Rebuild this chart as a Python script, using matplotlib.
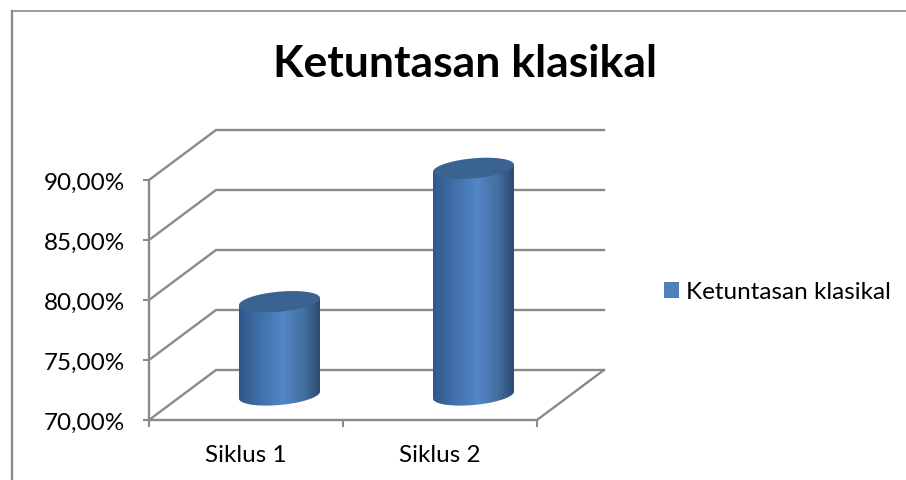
import numpy as np
import matplotlib
matplotlib.use('Agg')
import matplotlib.pyplot as plt
from matplotlib.colors import LinearSegmentedColormap
from matplotlib.lines import Line2D
from matplotlib.patches import Patch, Polygon

categories = ['Siklus 1', 'Siklus 2']
values = [77.78, 88.89]
y_ticks = [70, 75, 80, 85, 90]
y_tick_labels = ['70,00%', '75,00%', '80,00%', '85,00%', '90,00%']
series_name = 'Ketuntasan klasikal'
chart_title = 'Ketuntasan klasikal'

GRAY = '#8a8a8a'
plt.rcParams['font.family'] = ['Lato', 'DejaVu Sans']

W, H = 906, 481
fig = plt.figure(figsize=(W / 100, H / 100), dpi=100)
ax = fig.add_axes([149 / W, 1 - 421 / H, 388 / W, 240 / H])
ax.set_xlim(-0.5, 1.5)
ax.set_ylim(70, 90)

# depth of the fake 3d box, in data units
depth_x = 67 / 194
depth_y = 50 / 12

# walls and floor
for t in y_ticks:
    ax.plot([-0.5, -0.5 + depth_x, 1.5 + depth_x], [t, t + depth_y, t + depth_y],
            color=GRAY, lw=1.7, clip_on=False, zorder=1, solid_joinstyle='miter')
ax.plot([1.5, 1.5 + depth_x], [70, 70 + depth_y], color=GRAY, lw=1.7, clip_on=False, zorder=1)

# cylinders stand halfway back in the box
cmap = LinearSegmentedColormap.from_list('cyl', [
    (0.0, '#2f5889'), (0.25, '#3f6fa8'), (0.55, '#5286c8'),
    (0.8, '#44709f'), (1.0, '#2b4b72')])
half_w = 40.5 / 194
ell_h = 10 / 12
tilt = 3.5 / 12
t = np.linspace(0, 2 * np.pi, 121)
for i, v in enumerate(values):
    cx = i + depth_x / 2
    base = 70 + depth_y / 2
    top = v + depth_y / 2
    ex = cx + half_w * np.cos(t)
    e_off = ell_h * np.sin(t) + tilt * np.cos(t)
    # lower half of the outline, left to right
    low = np.linspace(np.pi, 2 * np.pi, 61)
    lx = cx + half_w * np.cos(low)
    ly = base + ell_h * np.sin(low) + tilt * np.cos(low)
    body = np.column_stack([
        np.r_[cx - half_w, lx, cx + half_w],
        np.r_[top - tilt, ly, top + tilt]])
    poly = Polygon(body, closed=True, transform=ax.transData, facecolor='none', edgecolor='none')
    ax.add_patch(poly)
    poly.set_clip_on(False)
    img = ax.imshow(np.linspace(0, 1, 256).reshape(1, -1), cmap=cmap, aspect='auto',
                    extent=[cx - half_w, cx + half_w, base - 2, top + 2], zorder=3)
    img.set_clip_box(fig.bbox)  # the tall cylinder pokes out above the axes
    img.set_clip_path(poly)
    ax.fill(ex, top + e_off, color='#3a6391', lw=0, zorder=4, clip_on=False)

ax.set_xlim(-0.5, 1.5)
ax.set_ylim(70, 90)
ax.patch.set_alpha(0)

for side in ['top', 'right']:
    ax.spines[side].set_visible(False)
for side in ['left', 'bottom']:
    ax.spines[side].set_color(GRAY)
    ax.spines[side].set_linewidth(1.7)
    ax.spines[side].set_zorder(2)

ax.set_yticks(y_ticks)
ax.set_yticklabels(y_tick_labels, fontsize=17.5, color='black')
ax.tick_params(axis='y', length=4.5, width=1.5, color=GRAY, pad=13)
ax.set_xticks([-0.5, 0.5, 1.5])
ax.set_xticklabels([])
ax.tick_params(axis='x', length=5, width=1.5, color=GRAY)
for i, c in enumerate(categories):
    ax.annotate(c, (i, 70), xytext=(0, -35), textcoords='offset pixels', ha='center',
                va='center', fontsize=17.5, color='black', annotation_clip=False)

fig.text(465 / W, 1 - 64 / H, chart_title, ha='center', va='center',
         fontsize=32, fontweight='bold', color='black')

fig.legend(handles=[Patch(facecolor='#4f81bd', label=series_name)],
           loc='center left', bbox_to_anchor=(664 / W, 1 - 293 / H), frameon=False,
           fontsize=17.5, handlelength=0.62, handleheight=0.62, handletextpad=0.3,
           borderpad=0, borderaxespad=0)

# outer frame of the cropped chart
fig.add_artist(Line2D([12 / W, 12 / W], [0, 1 - 12 / H], color=GRAY, lw=1.7))
fig.add_artist(Line2D([12 / W, 1], [1 - 12 / H, 1 - 12 / H], color=GRAY, lw=1.2))

fig.savefig('out.png', dpi=100)
